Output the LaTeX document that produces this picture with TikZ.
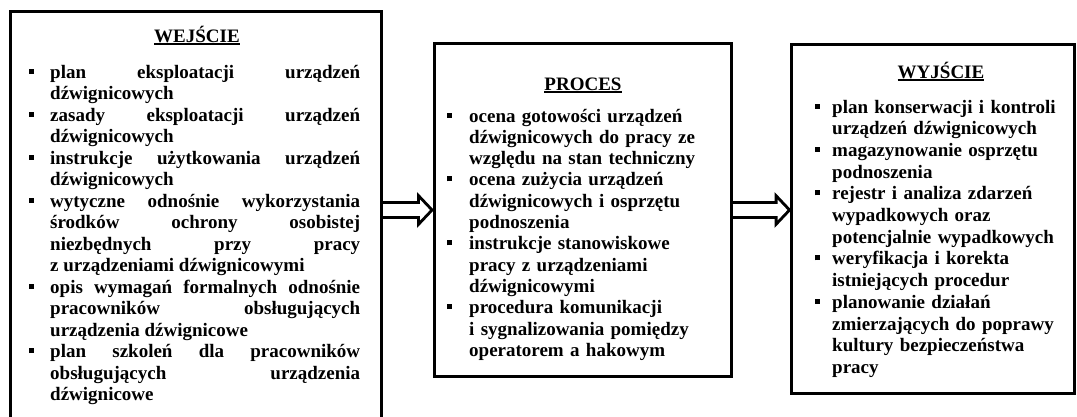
\documentclass[tikz,border=0pt]{standalone}
\usepackage{fontspec}
\setmainfont{Liberation Serif}[BoldFont={Liberation Serif Bold}]
\usepackage{tikz}
\usetikzlibrary{positioning, arrows.meta}

\newlength{\wciecie}
\newcommand{\pkt}[1]{\noindent\hangindent=\wciecie\hangafter=1%
  \makebox[\wciecie][l]{\rule[4.5pt]{5pt}{5pt}}#1\par}
\newcommand{\podkreslenie}[1]{\setbox0\hbox{#1}\rlap{\rule[-2.8pt]{\wd0}{1.5pt}}\box0}

\tikzset{
  ramka/.style={draw=black, line width=3pt, fill=white, inner sep=0pt, outer sep=0pt, anchor=north west},
  tytul/.style={font=\fontsize{19}{21.5}\selectfont\bfseries, inner sep=0pt, anchor=base},
  lista/.style={font=\fontsize{19}{#1}\selectfont\bfseries, inner sep=0pt, anchor=base west},
  blok/.style={draw=white, line width=12pt, shorten <=1.5pt, shorten >=4.1pt,
    -{Triangle[length=9.9pt, width=20.9pt, line width=0pt]},
    preaction={draw=black, line width=18pt, shorten <=0pt, shorten >=0pt,
      -{Triangle[length=17pt, width=36pt, line width=0pt]}}},
}

\begin{document}
\begin{tikzpicture}[x=1pt, y=-1pt]
  \useasboundingbox (0,0) rectangle (1077,416);
  \clip (0,0) rectangle (1077,416);

  % ramki
  \node[ramka, minimum width=371pt, minimum height=420pt] (wejscie) at (10.5,11.5) {};
  \node[ramka, minimum width=297pt, minimum height=333pt] (proces) at (434,43.5) {};
  \node[ramka, minimum width=283pt, minimum height=349pt] (wyjscie) at (791.5,44.5) {};

  % tytuly
  \node[tytul] (t-wejscie) at (197,42) {\podkreslenie{WEJŚCIE}};
  \node[tytul] (t-proces) at (583,90) {\podkreslenie{PROCES}};
  \node[tytul] (t-wyjscie) at (941,78) {\podkreslenie{WYJŚCIE}};

  % listy
  \node[lista=21.5pt, text width=331pt, align=justify] (l-wejscie) at (29,78) {%
    \setlength{\wciecie}{21pt}\parindent=0pt \tolerance=10000 \hbadness=10000 %
    \pkt{plan eksploatacji urządzeń\linebreak dźwignicowych}%
    \pkt{zasady eksploatacji urządzeń\linebreak dźwignicowych}%
    \pkt{instrukcje użytkowania urządzeń\linebreak dźwignicowych}%
    \pkt{wytyczne odnośnie wykorzystania\linebreak środków ochrony osobistej\linebreak
      niezbędnych przy pracy\linebreak z~urządzeniami dźwignicowymi}%
    \pkt{opis wymagań formalnych odnośnie\linebreak pracowników obsługujących\linebreak
      urządzenia dźwignicowe}%
    \pkt{plan szkoleń dla pracowników\linebreak obsługujących urządzenia\linebreak
      dźwignicowe}};
  \node[lista=21.3pt, text width=280pt, align=left] (l-proces) at (447,122) {%
    \setlength{\wciecie}{22pt}\parindent=0pt %
    \pkt{ocena gotowości urządzeń\newline dźwignicowych do pracy ze\newline względu na stan techniczny}%
    \pkt{ocena zużycia urządzeń\newline dźwignicowych i osprzętu\newline podnoszenia}%
    \pkt{instrukcje stanowiskowe\newline pracy z urządzeniami\newline dźwignicowymi}%
    \pkt{procedura komunikacji\newline i sygnalizowania pomiędzy\newline operatorem a hakowym}};
  \node[lista=21.7pt, text width=258pt, align=left] (l-wyjscie) at (815,113) {%
    \setlength{\wciecie}{17pt}\parindent=0pt %
    \pkt{plan konserwacji i kontroli\newline urządzeń dźwignicowych}%
    \pkt{magazynowanie osprzętu\newline podnoszenia}%
    \pkt{rejestr i analiza zdarzeń\newline wypadkowych oraz\newline potencjalnie wypadkowych}%
    \pkt{weryfikacja i korekta\newline istniejących procedur}%
    \pkt{planowanie działań\newline zmierzających do poprawy\newline kultury bezpieczeństwa\newline pracy}};

  % strzalki
  \draw[blok] (wejscie.east |- proces.west) -- (proces.west);
  \draw[blok] (proces.east) -- (wyjscie.west |- proces.east);
\end{tikzpicture}
\end{document}
